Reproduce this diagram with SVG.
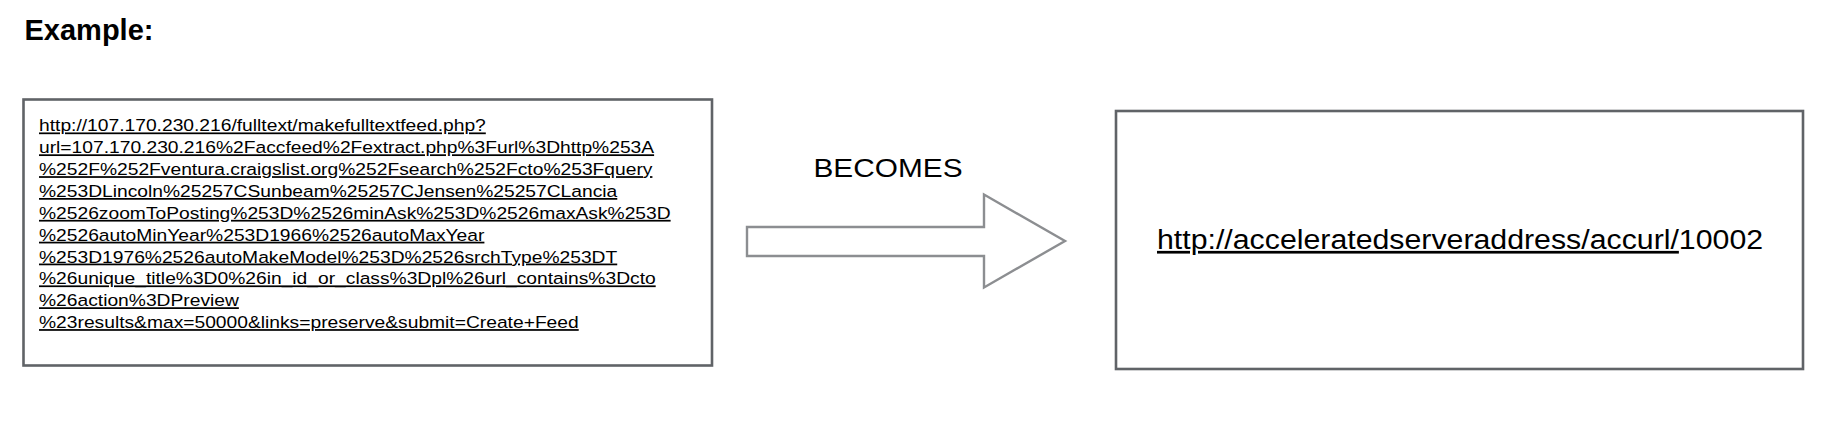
<svg xmlns="http://www.w3.org/2000/svg" width="1848" height="434" viewBox="0 0 1848 434">
<style>
.box{fill:#ffffff;stroke:#606367;stroke-width:2.6}
.arrow{fill:#ffffff;stroke:#8c8e91;stroke-width:2.4;stroke-linejoin:miter}
.t{font-family:"Liberation Sans",Arial,Helvetica,sans-serif;fill:#000}
.u{text-decoration:underline}
.url{font-size:17.4px}
</style>
<rect width="1848" height="434" fill="#ffffff"/>
<text id="title" class="t" x="24.5" y="39.5" font-size="29" font-weight="bold">Example:</text>
<g id="source">
<rect class="box" x="23.5" y="99.5" width="688.5" height="266"/>
<g transform="translate(39,0) scale(1.106,1)">
<text class="t url u" x="0" y="131.5">http://107.170.230.216/fulltext/makefulltextfeed.php?</text>
<text class="t url u" x="0" y="153.35">url=107.170.230.216%2Faccfeed%2Fextract.php%3Furl%3Dhttp%253A</text>
<text class="t url u" x="0" y="175.2">%252F%252Fventura.craigslist.org%252Fsearch%252Fcto%253Fquery</text>
<text class="t url u" x="0" y="197.05">%253DLincoln%25257CSunbeam%25257CJensen%25257CLancia</text>
<text class="t url u" x="0" y="218.9">%2526zoomToPosting%253D%2526minAsk%253D%2526maxAsk%253D</text>
<text class="t url u" x="0" y="240.75">%2526autoMinYear%253D1966%2526autoMaxYear</text>
<text class="t url u" x="0" y="262.6">%253D1976%2526autoMakeModel%253D%2526srchType%253DT</text>
<text class="t url u" x="0" y="284.45">%26unique_title%3D0%26in_id_or_class%3Dpl%26url_contains%3Dcto</text>
<text class="t url u" x="0" y="306.3">%26action%3DPreview</text>
<text class="t url u" x="0" y="328.15">%23results&amp;max=50000&amp;links=preserve&amp;submit=Create+Feed</text>
</g>
</g>
<g id="connector">
<polygon class="arrow" points="747,227 984,227 984,194.5 1065,241 984,287.5 984,256 747,256"/>
<text class="t" transform="translate(813.5,176.5) scale(1.125,1)" x="0" y="0" font-size="26.5">BECOMES</text>
</g>
<g id="target">
<rect class="box" x="1116" y="111" width="687" height="258"/>
<text class="t" transform="translate(1157,249) scale(1.122,1)" x="0" y="0" font-size="27"><tspan class="u">http://acceleratedserveraddress/accurl/</tspan>10002</text>
</g>
</svg>
